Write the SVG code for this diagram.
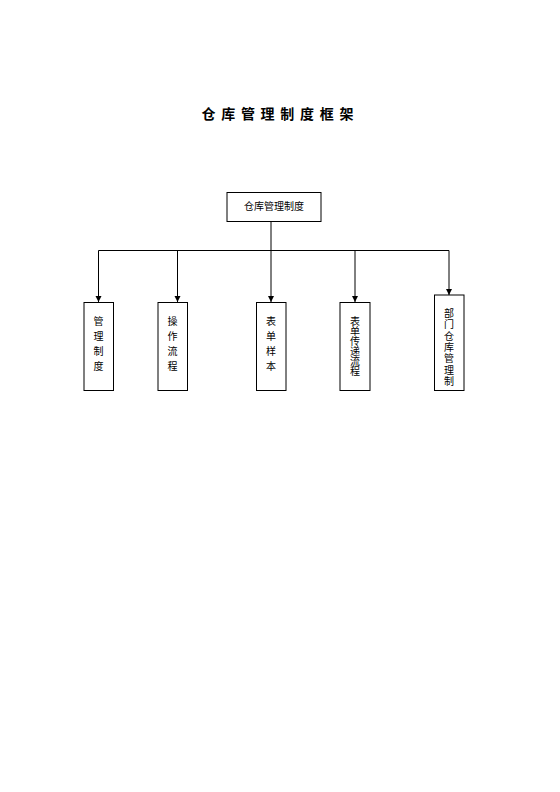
<svg xmlns="http://www.w3.org/2000/svg" width="560" height="792" viewBox="0 0 560 792">
<style>
.box{fill:#fff;stroke:#000;stroke-width:1}
.t{font-family:"Noto Sans CJK SC","Noto Sans CJK JP",sans-serif;font-size:10px;fill:#000}
.h{text-anchor:middle;dominant-baseline:central}
.v{writing-mode:vertical-rl;text-anchor:start}
.title{font-family:"Noto Sans CJK SC","Noto Sans CJK JP",sans-serif;font-size:14px;font-weight:bold;fill:#000;dominant-baseline:central;letter-spacing:5.7px}
.ln{stroke:#000;stroke-width:1;fill:none}
</style>
<defs>
<marker id="ah" markerWidth="6" markerHeight="8" refX="6" refY="3" orient="auto" markerUnits="userSpaceOnUse" viewBox="0 0 6 6">
<path d="M0,0 L6,3 L0,6 Z" fill="#000"/>
</marker>
</defs>
<rect width="560" height="792" fill="#fff"/>
<g id="title">
<text class="title" x="201.5" y="112.5">仓库管理制度框架</text>
</g>
<g id="connectors">
<path class="ln" d="M271,222 V250.5 M98.5,250.5 H449"/>
<path class="ln" d="M98.5,250.5 V302" marker-end="url(#ah)"/>
<path class="ln" d="M177.5,250.5 V302" marker-end="url(#ah)"/>
<path class="ln" d="M271,250.5 V302" marker-end="url(#ah)"/>
<path class="ln" d="M355,250.5 V302" marker-end="url(#ah)"/>
<path class="ln" d="M449,250.5 V295" marker-end="url(#ah)"/>
</g>
<g id="root">
<rect class="box" x="227" y="192.5" width="94" height="29"/>
<text class="t h" x="274" y="205">仓库管理制度</text>
</g>
<g id="n1">
<rect class="box" x="84" y="302.5" width="29.5" height="88"/>
<text class="t v" x="98.5" y="316.7" style="letter-spacing:5px">管理制度</text>
</g>
<g id="n2">
<rect class="box" x="158" y="302.5" width="29.5" height="88"/>
<text class="t v" x="172.5" y="316.7" style="letter-spacing:5px">操作流程</text>
</g>
<g id="n3">
<rect class="box" x="256.5" y="302.5" width="29.5" height="88"/>
<text class="t v" x="271" y="316.7" style="letter-spacing:5px">表单样本</text>
</g>
<g id="n4">
<rect class="box" x="340" y="302.5" width="30" height="88"/>
<text class="t v" x="355" y="316.7" style="letter-spacing:0px">表单传递流程</text>
</g>
<g id="n5">
<rect class="box" x="434.5" y="295" width="29.5" height="95.5"/>
<text class="t v" x="449" y="308.3" style="letter-spacing:1.3px">部门仓库管理制</text>
</g>
</svg>
